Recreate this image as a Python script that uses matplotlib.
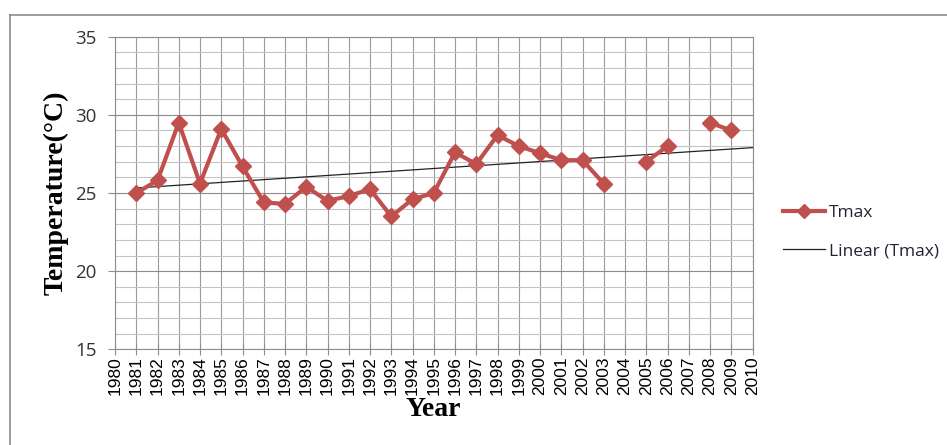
import matplotlib.pyplot as plt
from matplotlib.lines import Line2D
from matplotlib.ticker import MultipleLocator
import numpy as np

years = list(range(1981, 2010))
tmax = [25.0, 25.8, 29.5, 25.6, 29.1, 26.7, 24.4, 24.3, 25.4, 24.5,
        24.8, 25.25, 23.5, 24.6, 25.0, 27.6, 26.85, 28.7, 28.0, 27.55,
        27.1, 27.1, 25.6, None, 27.0, 28.0, None, 29.5, 29.0]

x = np.array(years, dtype=float)
y = np.array([np.nan if v is None else v for v in tmax], dtype=float)
ok = ~np.isnan(y)
slope, icpt = np.polyfit(x[ok], y[ok], 1)
trend_x = np.array([1981, 2010])

W, H = 947, 445
fig = plt.figure(figsize=(W / 100, H / 100), dpi=100)
ax = fig.add_axes([115 / W, 1 - 349.3 / H, (752.5 - 115) / W, (349.3 - 36.7) / H])

red = '#C0504D'
ax.plot(x, y, color=red, lw=3, marker='D', ms=8.5, label='Tmax', zorder=3)
ax.plot(trend_x, slope * trend_x + icpt, color='#222222', lw=0.9, label='Linear (Tmax)', zorder=2)

ax.set_xlim(1980, 2010)
ax.set_ylim(15, 35)
ax.xaxis.set_major_locator(MultipleLocator(1))
ax.yaxis.set_major_locator(MultipleLocator(5))
ax.yaxis.set_minor_locator(MultipleLocator(1))
ax.grid(axis='x', which='major', color='#9a9a9a', lw=0.8)
ax.grid(axis='y', which='major', color='#8c8c8c', lw=0.8)
ax.grid(axis='y', which='minor', color='#c4c4c4', lw=0.8)
ax.set_axisbelow(True)
for s in ax.spines.values():
    s.set_color('#8c8c8c')
    s.set_linewidth(0.8)

ax.tick_params(axis='y', which='major', direction='out', length=5, color='#8c8c8c',
               labelsize=13.5, labelcolor='#333333', pad=8)
ax.tick_params(axis='y', which='minor', length=0)
ax.tick_params(axis='x', direction='inout', length=8, color='#8c8c8c',
               labelsize=12.5, labelcolor='black', pad=1)
for t in ax.get_yticklabels():
    t.set_family('Open Sans')
plt.setp(ax.get_xticklabels(), rotation=90, family='Liberation Sans')

fig.text(56 / W, 1 - 193 / H, 'Temperature(°C)', rotation=90, ha='center', va='center',
         family='Liberation Serif', weight='bold', fontsize=20)
fig.text(433.5 / W, 1 - 410 / H, 'Year', ha='center', va='center',
         family='Liberation Serif', weight='bold', fontsize=20)

leg = fig.legend(loc='center left', bbox_to_anchor=(783 / W, 1 - 232 / H), frameon=False,
                 borderpad=0, borderaxespad=0, handlelength=2.4, handletextpad=0.25,
                 labelspacing=1.25, markerscale=0.85,
                 prop={'family': 'Open Sans', 'size': 12.5})
for t in leg.get_texts():
    t.set_color('#222233')

# outer chart border (top and left edges visible)
fig.add_artist(Line2D([10 / W, 10 / W], [0, 1 - 15 / H], transform=fig.transFigure,
                      color='#8c8c8c', lw=1.2))
fig.add_artist(Line2D([10 / W, 1], [1 - 15 / H, 1 - 15 / H], transform=fig.transFigure,
                      color='#8c8c8c', lw=1.2))

fig.savefig('out.png', dpi=100)
